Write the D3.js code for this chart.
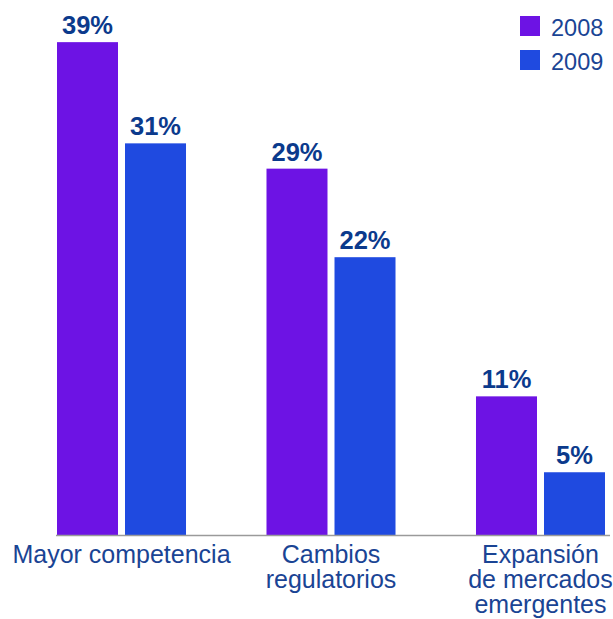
<!DOCTYPE html>
<html>
<head>
<meta charset="utf-8">
<script src="https://cdn.jsdelivr.net/npm/d3@7"></script>
<style>
  html, body { margin: 0; padding: 0; background: #fff; }
  svg { display: block; font-family: "Liberation Sans", Arial, Helvetica, sans-serif; }
</style>
</head>
<body>
<svg id="chart" width="613" height="619"></svg>
<script>
const categories = ["Mayor competencia", "Cambios regulatorios", "Expansión de mercados emergentes"];
const categoryLines = [["Mayor competencia"], ["Cambios", "regulatorios"], ["Expansión", "de mercados", "emergentes"]];
const seriesNames = ["2008", "2009"];
const values2008 = [39, 29, 11];
const values2009 = [31, 22, 5];
const seriesColors = ["#6d13e4", "#1f4ae0"];

const seriesValues = [values2008, values2009];
const svg = d3.select("#chart");
const baseY = 535.5;

const x0 = d3.scaleBand().domain(categories).range([57, 605]).paddingInner(0.3842).paddingOuter(0);
const x1 = d3.scaleBand().domain(seriesNames).range([0, x0.bandwidth()]).paddingInner(0.103).paddingOuter(0);
const y = d3.scaleLinear().domain([0, 40]).range([baseY, baseY - 40 * 12.65]);

const data = [];
categories.forEach((c, i) => {
  seriesNames.forEach((s, j) => {
    data.push({ cat: c, series: s, value: seriesValues[j][i], color: seriesColors[j] });
  });
});

// bars
svg.append("g").selectAll("rect").data(data).join("rect")
  .attr("x", d => x0(d.cat) + x1(d.series))
  .attr("y", d => y(d.value))
  .attr("width", x1.bandwidth())
  .attr("height", d => y(0) - y(d.value))
  .attr("fill", d => d.color);

// axis baseline
svg.append("line")
  .attr("x1", x0.range()[0] - 1).attr("x2", 610)
  .attr("y1", y(0)).attr("y2", y(0))
  .attr("stroke", "#9a9a9a").attr("stroke-width", 1.5);

// value labels
svg.append("g").selectAll("text").data(data).join("text")
  .attr("x", d => x0(d.cat) + x1(d.series) + x1.bandwidth() / 2)
  .attr("y", d => y(d.value) - 8)
  .attr("text-anchor", "middle")
  .attr("font-size", 25.5)
  .attr("font-weight", "bold")
  .attr("fill", "#0b3a8c")
  .text(d => d.value + "%");

// category labels
const catG = svg.append("g");
categories.forEach((c, i) => {
  const t = catG.append("text")
    .attr("x", x0(c) + x0.bandwidth() / 2)
    .attr("y", 563)
    .attr("text-anchor", "middle")
    .attr("font-size", 25)
    .attr("fill", "#1a4494");
  categoryLines[i].forEach((ln, k) => {
    t.append("tspan")
      .attr("x", x0(c) + x0.bandwidth() / 2)
      .attr("y", 563 + k * 25)
      .text(ln);
  });
});

// legend
const leg = svg.append("g").selectAll("g").data(seriesNames).join("g")
  .attr("transform", (d, i) => `translate(520, ${16 + i * 34})`);
leg.append("rect").attr("width", 20).attr("height", 20)
  .attr("fill", (d, i) => seriesColors[i]);
leg.append("text").attr("x", 31).attr("y", 20)
  .attr("font-size", 23.5).attr("fill", "#1a4494")
  .text(d => d);
</script>
</body>
</html>
